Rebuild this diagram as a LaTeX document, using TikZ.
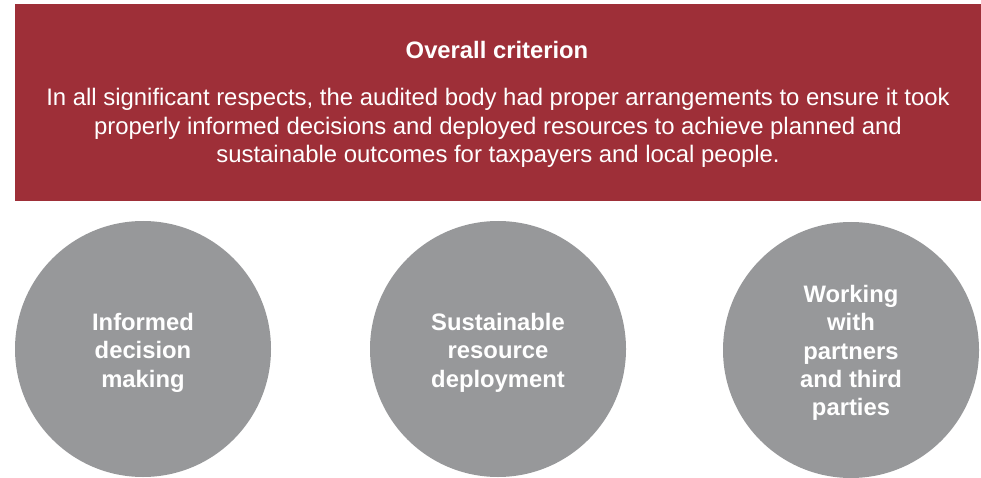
\documentclass[tikz,border=0pt]{standalone}
\usepackage{fontspec}
\setmainfont{Liberation Sans}
\definecolor{nred}{HTML}{9E2F38}
\definecolor{ngray}{HTML}{97989A}
\begin{document}
\begin{tikzpicture}[x=1pt,y=-1pt,
  circ/.style={circle,fill=ngray,minimum size=256pt,inner sep=0pt},
  ctext/.style={text=white,font=\fontsize{23.8}{28.4}\selectfont\bfseries,align=center}]
\useasboundingbox (0,0) rectangle (981,478);
\fill[nred] (15,4) rectangle (981,201);
\node[text=white,font=\fontsize{23.8}{28}\selectfont\bfseries] (title) at (497,50) {Overall criterion};
\node[text=white,font=\fontsize{23.9}{28.5}\selectfont,align=center] (body) at (498,128) {In all significant respects, the audited body had proper arrangements to ensure it took\\properly informed decisions and deployed resources to achieve planned and\\sustainable outcomes for taxpayers and local people.};
\node[circ] (c1) at (143,349) {};
\node[circ] (c2) at (498,349) {};
\node[circ] (c3) at (851,350) {};
\node[ctext] (t1) at ([yshift=-3.5pt]c1.center) {Informed\\decision\\making};
\node[ctext] (t2) at ([yshift=-3.5pt]c2.center) {Sustainable\\resource\\deployment};
\node[ctext] (t3) at ([yshift=-3pt]c3.center) {Working\\with\\partners\\and third\\parties};
\end{tikzpicture}
\end{document}
